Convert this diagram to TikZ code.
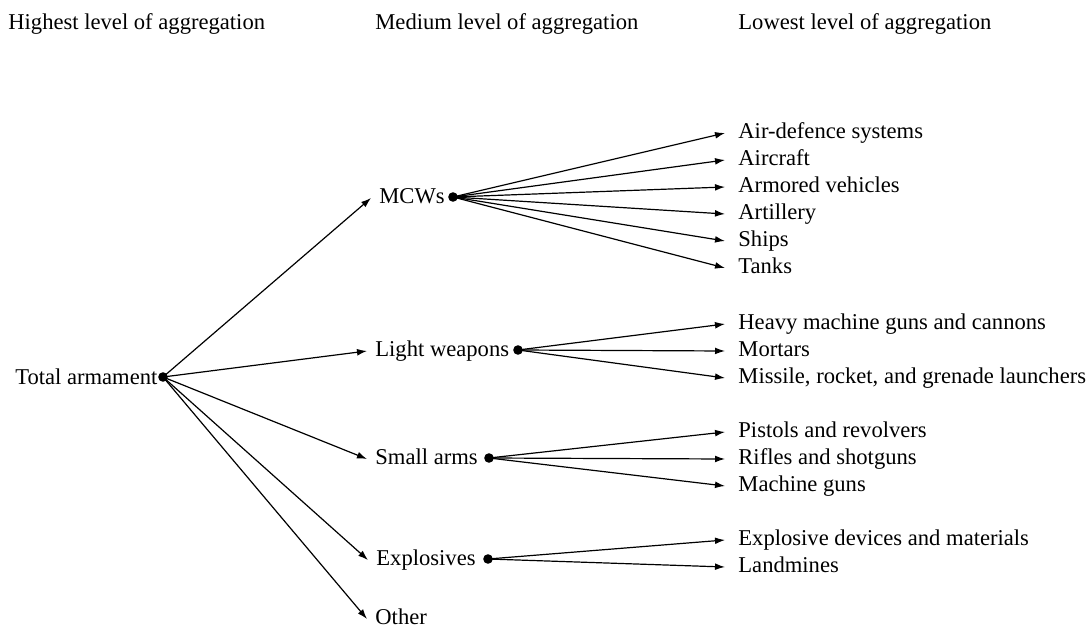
\documentclass[tikz,border=0pt]{standalone}
\usepackage{fontspec}
\setmainfont{Liberation Serif}
\usetikzlibrary{arrows.meta, positioning}

\begin{document}
\begin{tikzpicture}[x=0.5pt, y=-0.5pt, font=\rmfamily\fontsize{11.3}{13.5}\selectfont,
    every node/.style={text height=8pt, text depth=2.5pt},
    head/.style={anchor=west, inner sep=0pt},
    lvl/.style={anchor=west, inner ysep=2pt, inner xsep=4pt},
    leaf/.style={anchor=west, inner ysep=2pt, inner xsep=6.5pt},
    hub/.style={circle, fill, inner sep=0pt, minimum size=4.8pt, text height=, text depth=},
    arr/.style={-{Latex[length=5pt, width=3.4pt]}, line width=0.6pt}]
    \useasboundingbox (0,0) rectangle (1091,630);

    % Column headings
    \node[head] (hhigh) at (8,24) {Highest level of aggregation};
    \node[head] (hmed) at (375,24) {Medium level of aggregation};
    \node[head] (hlow) at (738,24) {Lowest level of aggregation};

    % Highest level
    \node[hub] (dtotal) at (163,377) {};
    \node[anchor=east, inner xsep=0pt] (total) at ([yshift=-1pt]dtotal.west) {Total armament};

    % Medium level
    \node[lvl] (mcw) at (371,198) {MCWs};
    \node[hub] (dmcw) at (453,197) {};
    \node[lvl] (light) at (367,351) {Light weapons};
    \node[hub] (dlight) at (518,350) {};
    \node[lvl] (small) at (367,459) {Small arms};
    \node[hub] (dsmall) at (489,458) {};
    \node[lvl] (expl) at (368,560) {Explosives};
    \node[hub] (dexpl) at (488,559) {};
    \node[lvl] (other) at (367,619) {Other};

    % Lowest level
    \node[leaf] (air) at (725,133) {Air-defence systems};
    \node[leaf] (craft) at (725,160) {Aircraft};
    \node[leaf] (armor) at (725,187) {Armored vehicles};
    \node[leaf] (artil) at (725,214) {Artillery};
    \node[leaf] (ships) at (725,241) {Ships};
    \node[leaf] (tanks) at (725,268) {Tanks};
    \node[leaf] (heavy) at (725,324) {Heavy machine guns and cannons};
    \node[leaf] (mortar) at (725,351) {Mortars};
    \node[leaf] (missile) at (725,378) {Missile, rocket, and grenade launchers};
    \node[leaf] (pistol) at (725,432) {Pistols and revolvers};
    \node[leaf] (rifle) at (725,459) {Rifles and shotguns};
    \node[leaf] (mgun) at (725,486) {Machine guns};
    \node[leaf] (device) at (725,540) {Explosive devices and materials};
    \node[leaf] (mine) at (725,567) {Landmines};

    % Arrows from the total
    \draw[arr] (dtotal.center) -- (mcw.west);
    \draw[arr] (dtotal.center) -- (light.west);
    \draw[arr] (dtotal.center) -- (small.west);
    \draw[arr] (dtotal.center) -- (expl.west);
    \draw[arr] (dtotal.center) -- (other.west);

    % Arrows to the lowest level
    \draw[arr] (dmcw.center) -- (air.west);
    \draw[arr] (dmcw.center) -- (craft.west);
    \draw[arr] (dmcw.center) -- (armor.west);
    \draw[arr] (dmcw.center) -- (artil.west);
    \draw[arr] (dmcw.center) -- (ships.west);
    \draw[arr] (dmcw.center) -- (tanks.west);
    \draw[arr] (dlight.center) -- (heavy.west);
    \draw[arr] (dlight.center) -- (mortar.west);
    \draw[arr] (dlight.center) -- (missile.west);
    \draw[arr] (dsmall.center) -- (pistol.west);
    \draw[arr] (dsmall.center) -- (rifle.west);
    \draw[arr] (dsmall.center) -- (mgun.west);
    \draw[arr] (dexpl.center) -- (device.west);
    \draw[arr] (dexpl.center) -- (mine.west);
\end{tikzpicture}
\end{document}
